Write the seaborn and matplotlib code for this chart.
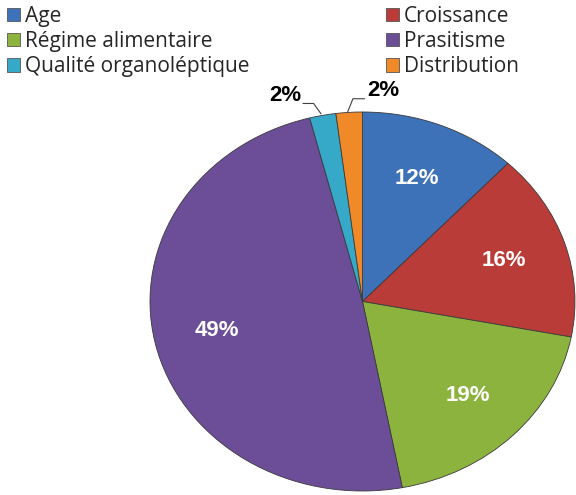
import matplotlib
matplotlib.use("Agg")
import matplotlib.pyplot as plt
from matplotlib.patches import Patch
import seaborn as sns

# data
categories = ["Age", "Croissance", "Régime alimentaire", "Prasitisme",
              "Qualité organoléptique", "Distribution"]
values = [12, 16, 19, 49, 2, 2]
colors = ["#3d72b8", "#b93c38", "#8db33f", "#6c4d98", "#36a8c8", "#f08a28"]

sns.set_theme(style="white")
plt.rcParams["font.family"] = ["Liberation Sans", "DejaVu Sans"]

fig = plt.figure(figsize=(5.76, 4.95), dpi=100)
ax = fig.add_axes([150 / 576, 4 / 495, 425 / 576, 379 / 495])

wedges, texts, autotexts = ax.pie(
    values, colors=sns.color_palette(colors), startangle=90, counterclock=False,
    autopct="%.0f%%", pctdistance=0.7,
    wedgeprops=dict(edgecolor="#3a3a3a", linewidth=0.6),
    textprops=dict(color="white", fontsize=16, fontweight="bold"))
ax.set_aspect("auto")
ax.set_xlim(-1, 1)
ax.set_ylim(-1, 1)
ax.axis("off")

# small slices: labels outside with leader lines
for t in autotexts[4:]:
    t.set_visible(False)
ax.text(-0.29, 1.03, f"{values[4]}%", ha="right", va="bottom",
        fontsize=16, fontweight="bold", color="black")
ax.plot([-0.28, -0.23, -0.195], [1.045, 1.045, 0.99], color="#404040", lw=0.8,
        clip_on=False)
ax.text(0.02, 1.06, f"{values[5]}%", ha="left", va="bottom",
        fontsize=16, fontweight="bold", color="black")
ax.plot([-0.07, -0.045, 0.01], [1.0, 1.07, 1.07], color="#404040", lw=0.8,
        clip_on=False)

handles = [Patch(facecolor=c, edgecolor="#555555", linewidth=0.6) for c in colors]
leg_kw = dict(frameon=False, handlelength=0.6, handleheight=0.6,
              handletextpad=0.25, labelspacing=0.2, borderaxespad=0,
              borderpad=0, prop={"family": "Open Sans", "size": 15})
leg1 = fig.legend([handles[i] for i in (0, 2, 4)], [categories[i] for i in (0, 2, 4)],
                  loc="upper left", bbox_to_anchor=(7 / 576, 1 - 6 / 495), **leg_kw)
leg2 = fig.legend([handles[i] for i in (1, 3, 5)], [categories[i] for i in (1, 3, 5)],
                  loc="upper left", bbox_to_anchor=(386 / 576, 1 - 6 / 495), **leg_kw)

fig.savefig("out.png", dpi=100)
